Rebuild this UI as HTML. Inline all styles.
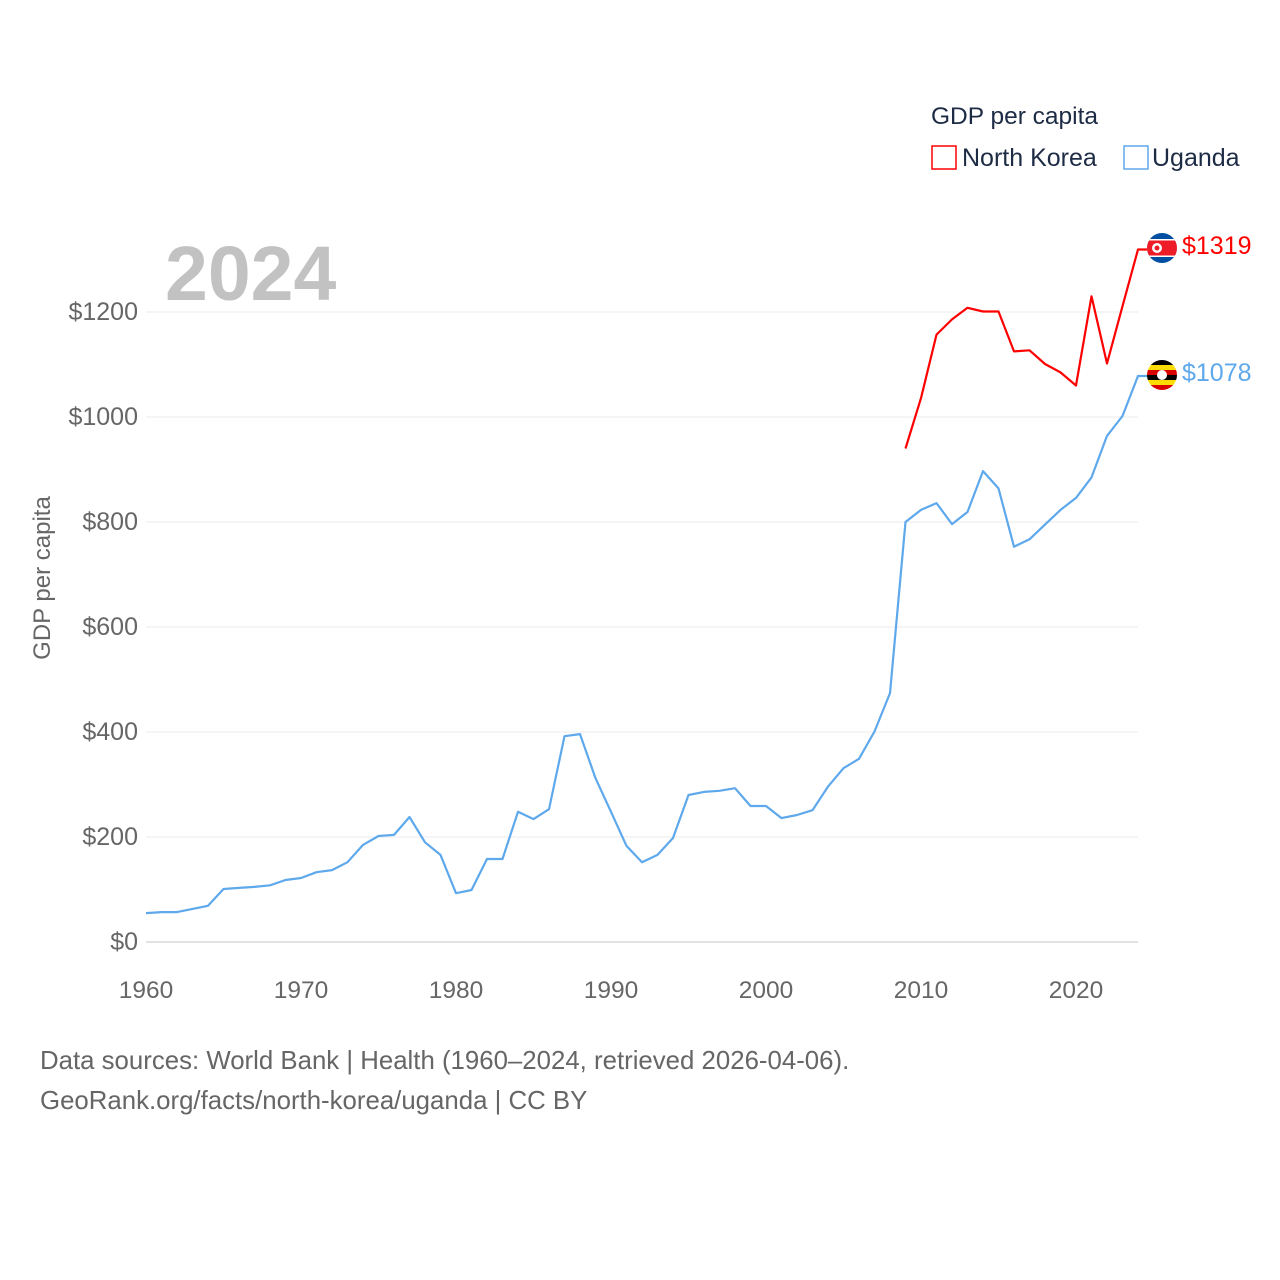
<!DOCTYPE html>
<html><head><meta charset="utf-8"><style>
html,body{margin:0;padding:0;background:#fff;}
svg{display:block;font-family:"Liberation Sans",sans-serif;}
</style></head><body>
<svg id="chart" width="1280" height="1280" viewBox="0 0 1280 1280">
<defs>
<clipPath id="c1"><circle cx="0" cy="0" r="15"/></clipPath>
</defs>
<g id="grid"></g>
<g id="yticks"></g>
<g id="xticks"></g>
<text x="50" y="578" transform="rotate(-90 50 578)" text-anchor="middle" font-size="24" fill="#666">GDP per capita</text>
<text x="165" y="300" font-size="77" font-weight="bold" fill="#c2c2c2">2024</text>
<g id="series"></g>
<g>
<text x="931" y="124" font-size="24.5" fill="#1d2b45">GDP per capita</text>
<g>
<rect x="932" y="146" width="24" height="23" fill="none" stroke="#ff0000" stroke-width="1.5"/>
<text x="962" y="166" font-size="25" fill="#1d2b45">North Korea</text></g>
<g>
<rect x="1124" y="146" width="24" height="23" fill="none" stroke="#5ea8ec" stroke-width="1.5"/>
<text x="1152" y="166" font-size="25" fill="#1d2b45">Uganda</text></g>
</g>
<g transform="translate(1162,248)" clip-path="url(#c1)">
<rect x="-15" y="-15" width="30" height="30" fill="#024fa2"/>
<rect x="-15" y="-9" width="30" height="18" fill="#fff"/>
<rect x="-15" y="-7.5" width="30" height="15" fill="#ed1c27"/>
<circle cx="-5" cy="0" r="5" fill="#fff"/>
<circle cx="-5" cy="0" r="2.5" fill="#ed1c27"/>
</g>
<g transform="translate(1162,375)" clip-path="url(#c1)">
<rect x="-15" y="-15" width="30" height="5" fill="#000"/>
<rect x="-15" y="-10" width="30" height="5" fill="#fcdc04"/>
<rect x="-15" y="-5" width="30" height="5" fill="#d90000"/>
<rect x="-15" y="0" width="30" height="5" fill="#000"/>
<rect x="-15" y="5" width="30" height="5" fill="#fcdc04"/>
<rect x="-15" y="10" width="30" height="5" fill="#d90000"/>
<circle cx="0" cy="0" r="5" fill="#fff"/>
</g>
<text id="nkLabel" x="1182" y="254" font-size="25" fill="#ff0000">$1319</text>
<text id="ugLabel" x="1182" y="381" font-size="25" fill="#5ea8ec">$1078</text>
<text x="40" y="1069" font-size="25.8" fill="#666">Data sources: World Bank | Health (1960–2024, retrieved 2026-04-06).</text>
<text x="40" y="1109" font-size="25.8" fill="#666">GeoRank.org/facts/north-korea/uganda | CC BY</text>
</svg>
<script>
const yTicks = [0, 200, 400, 600, 800, 1000, 1200];
const xTicks = [1960, 1970, 1980, 1990, 2000, 2010, 2020];
const ugandaYears = [1960,1961,1962,1963,1964,1965,1966,1967,1968,1969,1970,1971,1972,1973,1974,1975,1976,1977,1978,1979,1980,1981,1982,1983,1984,1985,1986,1987,1988,1989,1990,1991,1992,1993,1994,1995,1996,1997,1998,1999,2000,2001,2002,2003,2004,2005,2006,2007,2008,2009,2010,2011,2012,2013,2014,2015,2016,2017,2018,2019,2020,2021,2022,2023,2024];
const ugandaValues = [55,57,57,63,69,101,103,105,108,118,122,133,137,152,185,202,204,238,190,166,93,99,158,158,248,234,253,392,396,312,248,183,152,166,198,280,286,288,293,259,259,236,242,251,296,331,349,401,474,800,823,836,796,819,897,864,753,767,795,823,846,885,964,1002,1078];
const nkYears = [2009,2010,2011,2012,2013,2014,2015,2016,2017,2018,2019,2020,2021,2022,2023,2024];
const nkValues = [940,1036,1157,1186,1208,1201,1201,1125,1127,1101,1085,1060,1230,1102,1211,1319];

const NS = "http://www.w3.org/2000/svg";
const X0 = 146, X1 = 1138, Y0 = 942, Y1 = 312;
function xs(yr){ return X0 + (yr - 1960) * (X1 - X0) / (2024 - 1960); }
function ys(v){ return Y0 - v * (Y0 - Y1) / 1200; }

const grid = document.getElementById('grid');
const yt = document.getElementById('yticks');
yTicks.forEach(v => {
  const l = document.createElementNS(NS,'line');
  l.setAttribute('x1', X0); l.setAttribute('x2', X1);
  l.setAttribute('y1', ys(v)); l.setAttribute('y2', ys(v));
  l.setAttribute('stroke', v === 0 ? '#e2e2e2' : '#ebebeb');
  l.setAttribute('stroke-width', v === 0 ? 2 : 1);
  
  
  grid.appendChild(l);
  const t = document.createElementNS(NS,'text');
  t.setAttribute('x', 138); t.setAttribute('y', ys(v) + 8);
  t.setAttribute('text-anchor','end'); t.setAttribute('font-size','25'); t.setAttribute('fill','#666');
  t.textContent = '$' + v;
  
  
  yt.appendChild(t);
});
const xt = document.getElementById('xticks');
xTicks.forEach(yr => {
  const t = document.createElementNS(NS,'text');
  t.setAttribute('x', xs(yr)); t.setAttribute('y', 998);
  t.setAttribute('text-anchor','middle'); t.setAttribute('font-size','24.5'); t.setAttribute('fill','#666');
  t.textContent = yr;
  
  
  xt.appendChild(t);
});
const series = document.getElementById('series');
function drawLine(years, vals, color, name){
  let d = years.map((yr,i) => (i ? 'L' : 'M') + xs(yr).toFixed(1) + ' ' + ys(vals[i]).toFixed(1)).join(' ');
  const last = vals[vals.length-1];
  d += ' L ' + (X1 + 10) + ' ' + ys(last).toFixed(1);
  const p = document.createElementNS(NS,'path');
  p.setAttribute('d', d); p.setAttribute('fill','none'); p.setAttribute('stroke', color);
  p.setAttribute('stroke-width', 2.2); p.setAttribute('stroke-linejoin','round');
  
  
  series.appendChild(p);
}
drawLine(ugandaYears, ugandaValues, '#5ea8ec', 'uganda-line');
drawLine(nkYears, nkValues, '#ff0000', 'north-korea-line');
</script>
</body></html>
